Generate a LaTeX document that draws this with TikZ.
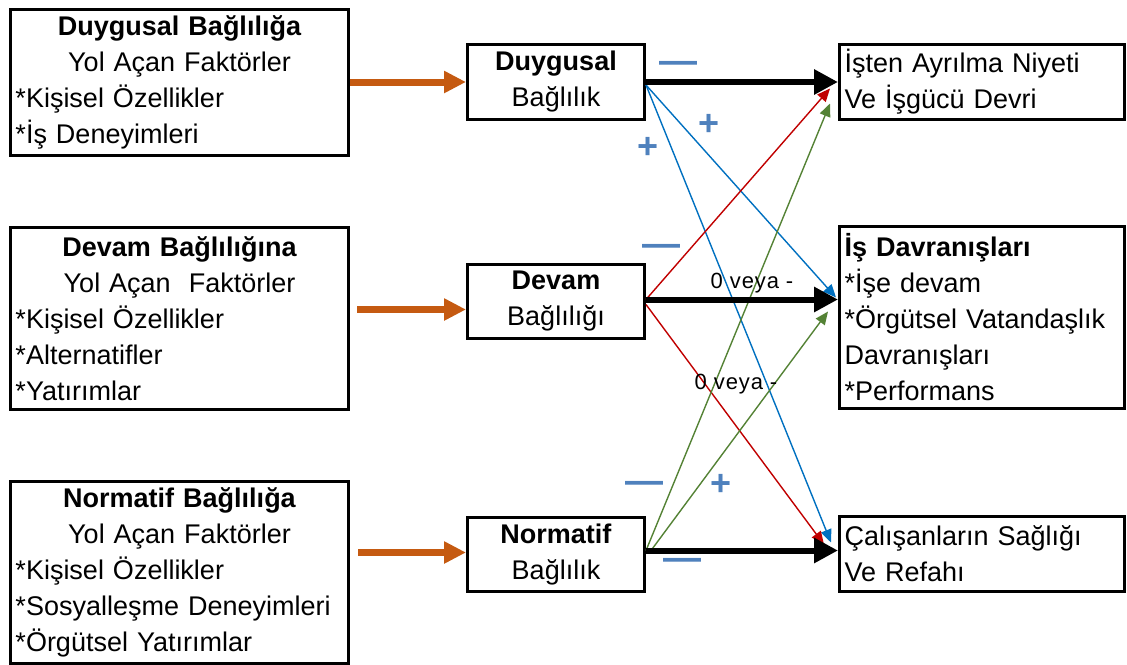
\documentclass[tikz,border=0pt]{standalone}
\usepackage{fontspec}
\setmainfont{Liberation Sans}
\usetikzlibrary{arrows.meta,calc}
\definecolor{orng}{HTML}{C55A11}
\definecolor{bluel}{HTML}{0070C0}
\definecolor{redl}{HTML}{C00000}
\definecolor{greenl}{HTML}{548235}
\definecolor{signc}{HTML}{4F81BD}
\begin{document}
\begin{tikzpicture}[x=1pt,y=-1pt,
  box/.style={draw, line width=3pt, anchor=north west, inner xsep=5pt, inner ysep=0pt,
    font=\fontsize{27}{36}\selectfont, align=left},
  midbox/.style={box, align=center},
  feed/.style={draw=orng, line width=7pt, -{Triangle[length=22pt,width=21pt]}},
  main/.style={draw=black, line width=6pt, -{Triangle[length=24pt,width=24pt]}},
  thinarr/.style={line width=1.4pt, -{Triangle[length=13pt,width=11pt]}},
  dashsign/.style={text=signc, inner sep=0pt, font=\fontsize{38}{38}\selectfont\bfseries},
  plussign/.style={text=signc, inner sep=0pt, font=\fontsize{36}{36}\selectfont\bfseries},
  lbl/.style={inner sep=0pt, font=\fontsize{22}{22}\selectfont\addfontfeature{LetterSpace=4}}]
\useasboundingbox (0,0) rectangle (1127,664);

% left boxes
\node[box, minimum width=338pt, minimum height=146pt, text width=328pt] (L1) at (9,8)
  {\makebox[\linewidth]{\bfseries Duygusal Bağlılığa}\\
   \makebox[\linewidth]{Yol Açan Faktörler}\\
   {*}Kişisel Özellikler\\
   {*}İş Deneyimleri};
\node[box, minimum width=338pt, minimum height=182pt, text width=328pt] (L2) at (9,226)
  {\makebox[\linewidth]{\bfseries Devam Bağlılığına}\\
   \makebox[\linewidth]{Yol Açan\ \ Faktörler}\\
   {*}Kişisel Özellikler\\
   {*}Alternatifler\\
   {*}Yatırımlar};
\node[box, minimum width=338pt, minimum height=182pt, text width=328pt] (L3) at (9,480)
  {\makebox[\linewidth]{\bfseries Normatif Bağlılığa}\\
   \makebox[\linewidth]{Yol Açan Faktörler}\\
   {*}Kişisel Özellikler\\
   {*}Sosyalleşme Deneyimleri\\
   {*}Örgütsel Yatırımlar};

% middle boxes
\node[midbox, minimum width=177pt, minimum height=75pt, text width=167pt] (D1) at (466,43)
  {\textbf{Duygusal}\\Bağlılık};
\node[midbox, minimum width=177pt, minimum height=74pt, text width=167pt] (D2) at (466,263)
  {\textbf{Devam}\\Bağlılığı};
\node[midbox, minimum width=177pt, minimum height=74pt, text width=167pt] (N) at (466,516)
  {\textbf{Normatif}\\Bağlılık};

% right boxes
\node[box, minimum width=285pt, minimum height=75pt, text width=275pt] (R1) at (838,43)
  {İşten Ayrılma Niyeti\\Ve İşgücü Devri};
\node[box, minimum width=285pt, minimum height=182pt, text width=275pt] (R2) at (838,225)
  {\textbf{İş Davranışları}\\
   {*}İşe devam\\
   {*}Örgütsel Vatandaşlık\\
   Davranışları\\
   {*}Performans};
\node[box, minimum width=285pt, minimum height=75pt, text width=275pt] (R3) at (838,515)
  {Çalışanların Sağlığı\\Ve Refahı};

% orange feed arrows
\coordinate (o2) at ([shift={(7pt,9pt)}]L2.east);
\coordinate (o3) at ([shift={(8pt,20pt)}]L3.east);
\draw[feed] (L1.east |- D1.west) -- (D1.west);
\draw[feed] (o2) -- (o2 -| D2.west);
\draw[feed] (o3) -- (o3 -| N.west);

% thin coloured arrows
\coordinate (b0) at ([yshift=-3pt]D1.east);
\coordinate (r1) at ([yshift=2pt]D2.east);
\coordinate (r2) at ([yshift=-3pt]D2.east);
\coordinate (g1) at ([yshift=4pt]N.east);
\coordinate (g2) at ([shift={(5pt,4pt)}]N.east);
\draw[thinarr, bluel] (b0) -- ([shift={(-2pt,20pt)}]R2.west);
\draw[thinarr, bluel] (b0) -- ([shift={(-7pt,11.5pt)}]R3.west);
\draw[thinarr, redl] (r1) -- ([shift={(-8pt,-6.5pt)}]R1.west);
\draw[thinarr, redl] (r2) -- ([shift={(-14pt,9.5pt)}]R3.west);
\draw[thinarr, greenl] (g1) -- ([shift={(-8pt,-21.5pt)}]R1.west);
\draw[thinarr, greenl] (g2) -- ([shift={(-10pt,6pt)}]R2.west);

% main black arrows
\coordinate (d0) at ([yshift=2pt]D2.east);
\draw[main] (D1.east) -- (D1.east -| R1.west);
\draw[main] (d0) -- (d0 -| R2.west);
\draw[main] (g1) -- (g1 -| R3.west);

% signs and labels
\node[dashsign] (s1) at (678,67) {—};
\node[plussign] (s2) at (709,125) {+};
\node[plussign] (s3) at (648,148) {+};
\node[dashsign] (s4) at (661,250) {—};
\node[lbl] (t1) at (752,283) {0 veya -};
\node[lbl] (t2) at (736,384) {0 veya -};
\node[dashsign] (s5) at (644,487) {—};
\node[plussign] (s6) at (721,485) {+};
\node[dashsign] (s7) at (682,564) {—};
\end{tikzpicture}
\end{document}
